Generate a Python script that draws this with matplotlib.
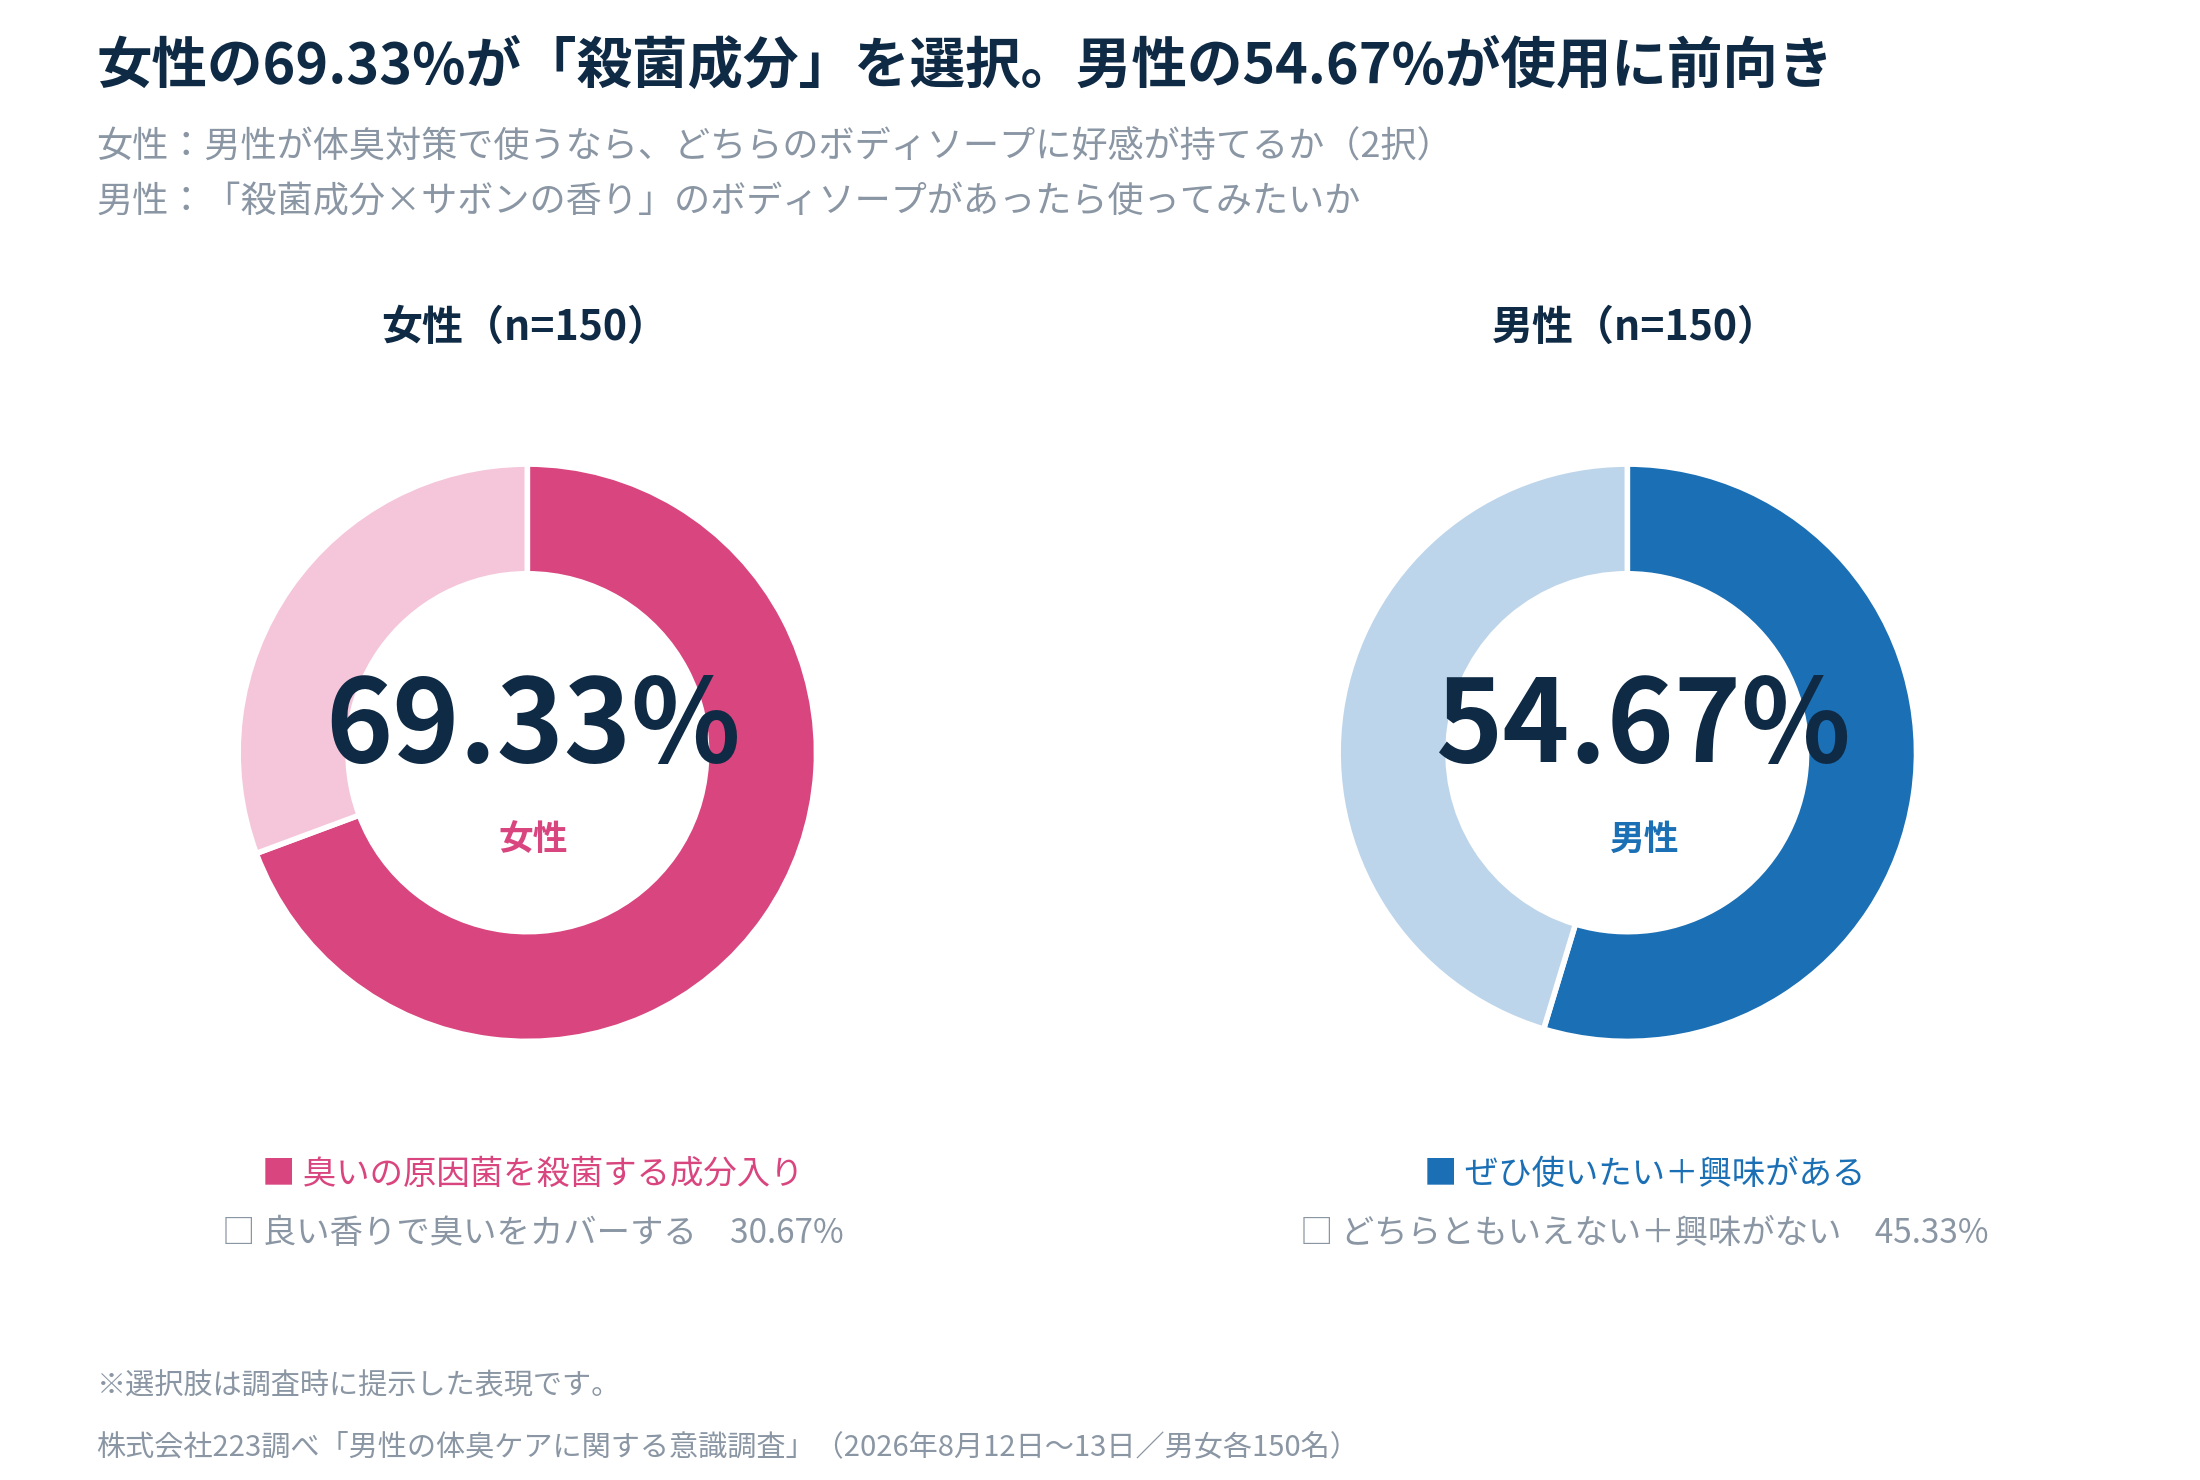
import matplotlib
matplotlib.use("Agg")
import matplotlib.pyplot as plt

plt.rcParams['font.family'] = ['Noto Sans CJK JP', 'DejaVu Sans']

# data
groups = ["女性", "男性"]
headers = ["女性（n=150）", "男性（n=150）"]
female_vals = [69.33, 30.67]
male_vals = [54.67, 45.33]
female_labels = ["臭いの原因菌を殺菌する成分入り", "良い香りで臭いをカバーする"]
male_labels = ["ぜひ使いたい＋興味がある", "どちらともいえない＋興味がない"]

dark = "#0F2A44"
gray = "#8A96A3"
col_f = ["#D9457E", "#F5C6DA"]
col_m = ["#1B6FB5", "#BDD5EA"]

W, H = 1552, 1046  # reference layout units


def fx(px):
    return px / W


def fy(py):
    return 1 - py / H


fig = plt.figure(figsize=(22, 14.8), dpi=100)

fig.text(fx(68), fy(47), "女性の69.33%が「殺菌成分」を選択。男性の54.67%が使用に前向き",
         fontsize=40, weight='bold', color=dark, va='center')
fig.text(fx(68), fy(104), "女性：男性が体臭対策で使うなら、どちらのボディソープに好感が持てるか（2択）",
         fontsize=26, color=gray, va='center')
fig.text(fx(68), fy(143), "男性：「殺菌成分×サボンの香り」のボディソープがあったら使ってみたいか",
         fontsize=26, color=gray, va='center')

panels = [(372, female_vals, col_f, female_labels), (1148, male_vals, col_m, male_labels)]
for i, (cx, vals, cols, labs) in enumerate(panels):
    r = 204
    ax = fig.add_axes([fx(cx - r * 1.05), fy(532 + r * 1.05), 2 * r * 1.05 / W, 2 * r * 1.05 / H])
    ax.pie(vals, colors=cols, startangle=90, counterclock=False,
           wedgeprops=dict(width=0.38, edgecolor='white', linewidth=4))
    ax.set_xlim(-1.05, 1.05)
    ax.set_ylim(-1.05, 1.05)
    ax.set_aspect('auto')
    ax.axis('off')

    tx = cx + 4 if i == 0 else cx + 12
    fig.text(fx(tx - 6), fy(232), headers[i], fontsize=29.5, weight='bold', color=dark,
             ha='center', va='center')
    fig.text(fx(tx), fy(515), f"{vals[0]:.2f}%", fontsize=82, weight='bold', color=dark,
             ha='center', va='center')
    fig.text(fx(tx), fy(593), groups[i], fontsize=25, weight='bold', color=cols[0],
             ha='center', va='center')
    fig.text(fx(tx), fy(830), "■ " + labs[0], fontsize=24, color=cols[0],
             ha='center', va='center')
    fig.text(fx(tx), fy(872), "□ " + labs[1] + f"　{vals[1]:.2f}%", fontsize=24, color=gray,
             ha='center', va='center')

fig.text(fx(68), fy(980), "※選択肢は調査時に提示した表現です。", fontsize=21, color=gray, va='center')
fig.text(fx(68), fy(1023), "株式会社223調べ「男性の体臭ケアに関する意識調査」（2026年8月12日〜13日／男女各150名）",
         fontsize=21, color=gray, va='center')

fig.savefig("out.png", dpi=100, facecolor='white')
